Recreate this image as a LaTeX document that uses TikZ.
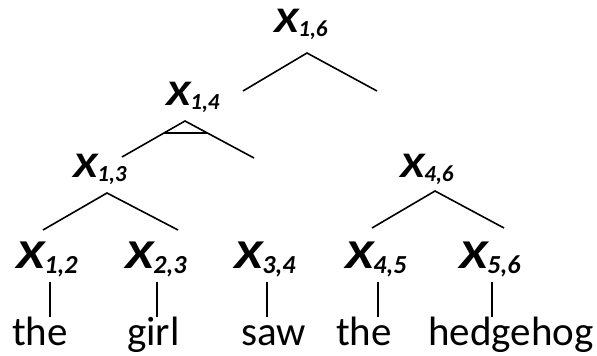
\documentclass[tikz,border=0pt]{standalone}
\usepackage{fontspec}
\setmainfont{Carlito}
\newcommand{\bigX}[1]{\scalebox{1.25}[1]{X}\raisebox{-5pt}{\fontsize{26}{26}\selectfont #1}}
\newcommand{\smallX}[1]{\scalebox{1.22}[1]{X}\raisebox{-4.5pt}{\fontsize{23}{23}\selectfont #1}}
\begin{document}
\begin{tikzpicture}[x=1pt,y=-1pt,
  biglbl/.style={inner sep=0pt, anchor=base west, font=\fontsize{41}{41}\selectfont\bfseries\itshape},
  smlbl/.style={inner sep=0pt, anchor=base west, font=\fontsize{36}{36}\selectfont\bfseries\itshape},
  word/.style={inner sep=0pt, anchor=base west, font=\fontsize{41}{41}\selectfont},
  edge/.style={line width=1.6pt, black}]
\useasboundingbox (0,0) rectangle (597,356);
% labels
\node[smlbl] (x16) at (274,32) {\smallX{1,6}};
\node[smlbl] (x14) at (166,105) {\smallX{1,4}};
\node[smlbl] (x13) at (73,177) {\smallX{1,3}};
\node[smlbl] (x46) at (400,177) {\smallX{4,6}};
\node[biglbl] (x12) at (16,268) {\bigX{1,2}};
\node[biglbl] (x23) at (125,268) {\bigX{2,3}};
\node[biglbl] (x34) at (234,268) {\bigX{3,4}};
\node[biglbl] (x45) at (345,268) {\bigX{4,5}};
\node[biglbl] (x56) at (459,268) {\bigX{5,6}};
% words
\node[word] (w1) at (12,345) {the};
\node[word] (w2) at (127,345) {girl};
\node[word] (w3) at (241,345) {saw};
\node[word] (w4) at (336,345) {the};
\node[word] (w5) at (428,345) {hedgehog};
% branch points
\coordinate (a16) at (307,53);
\coordinate (l16) at (243,91);
\coordinate (r16) at (377,91);
\coordinate (a14) at (185,121);
\coordinate (l14) at (122,157);
\coordinate (r14) at (254,158);
\coordinate (bl14) at (164,133);
\coordinate (br14) at (207,133);
\coordinate (a13) at (107,193);
\coordinate (l13) at (43,230);
\coordinate (r13) at (178,230);
\coordinate (a46) at (435,191);
\coordinate (l46) at (372,228);
\coordinate (r46) at (504,228);
\foreach \n/\x in {12/50,23/157,34/267,45/378,56/492} {
  \coordinate (t\n) at (\x,282);
  \coordinate (b\n) at (\x,317);
}
% connectors
\draw[edge] (l16) -- (a16) -- (r16);
\draw[edge] (l14) -- (a14) -- (r14);
\draw[edge] (bl14) -- (br14);
\draw[edge] (l13) -- (a13) -- (r13);
\draw[edge] (l46) -- (a46) -- (r46);
\foreach \n in {12,23,34,45,56} { \draw[edge] (t\n) -- (b\n); }
\end{tikzpicture}
\end{document}
